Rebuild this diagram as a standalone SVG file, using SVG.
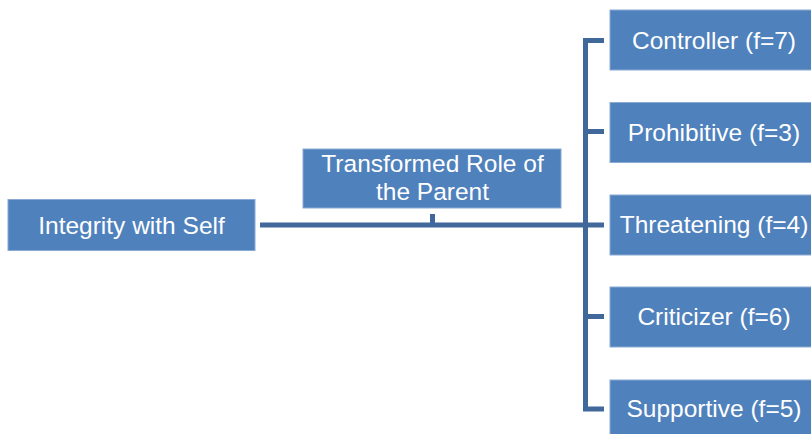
<svg xmlns="http://www.w3.org/2000/svg" width="811" height="434" viewBox="0 0 811 434">
  <style>
    .box { fill: #4F81BD; stroke: #8AAAD3; stroke-width: 1; }
    .lbl { fill: #FFFFFF; font-family: "Liberation Sans", Arial, sans-serif; font-size: 24.5px; text-anchor: middle; }
    .wire { stroke: #41689A; stroke-width: 5; fill: none; stroke-linecap: butt; }
  </style>
  <rect width="811" height="434" fill="#FFFFFF"/>

  <!-- connectors: trunk, label tick and bracket with stubs -->
  <g id="connectors">
    <line class="wire" x1="260" y1="225" x2="604" y2="225"/>
    <line class="wire" x1="432.5" y1="214" x2="432.5" y2="225"/>
    <path class="wire" d="M604 40.5 H585.5 V409 H604"/>
    <line class="wire" x1="585.5" y1="131.5" x2="604" y2="131.5"/>
    <line class="wire" x1="585.5" y1="316.5" x2="604" y2="316.5"/>
  </g>

  <g id="integrity-with-self">
    <rect class="box" x="8" y="199.5" width="247" height="51"/>
    <text class="lbl" x="131.5" y="233.5">Integrity with Self</text>
  </g>

  <g id="transformed-role">
    <rect class="box" x="303" y="149" width="258" height="59"/>
    <text class="lbl" x="432.5" y="172">Transformed Role of</text>
    <text class="lbl" x="432.5" y="200">the Parent</text>
  </g>

  <g id="controller">
    <rect class="box" x="610" y="10" width="210" height="60"/>
    <text class="lbl" x="714" y="48.5">Controller (f=7)</text>
  </g>

  <g id="prohibitive">
    <rect class="box" x="610" y="102.5" width="210" height="60"/>
    <text class="lbl" x="714" y="140.5">Prohibitive (f=3)</text>
  </g>

  <g id="threatening">
    <rect class="box" x="610" y="195" width="210" height="60"/>
    <text class="lbl" x="714" y="233">Threatening (f=4)</text>
  </g>

  <g id="criticizer">
    <rect class="box" x="610" y="287" width="210" height="60"/>
    <text class="lbl" x="714" y="325">Criticizer (f=6)</text>
  </g>

  <g id="supportive">
    <rect class="box" x="610" y="380" width="210" height="60"/>
    <text class="lbl" x="714" y="417">Supportive (f=5)</text>
  </g>
</svg>
